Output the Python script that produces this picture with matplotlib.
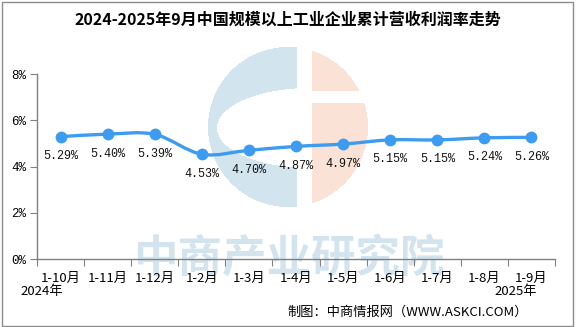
import numpy as np
import matplotlib
matplotlib.use("Agg")
import matplotlib.pyplot as plt
from matplotlib.path import Path
from matplotlib.patches import PathPatch, Rectangle

plt.rcParams['font.family'] = ['Noto Sans CJK SC', 'DejaVu Sans']

categories = ["1-10月", "1-11月", "1-12月", "1-2月", "1-3月", "1-4月",
              "1-5月", "1-6月", "1-7月", "1-8月", "1-9月"]
values = [5.29, 5.40, 5.39, 4.53, 4.70, 4.87, 4.97, 5.15, 5.15, 5.24, 5.26]
ytick_vals = [0, 2, 4, 6, 8]
ytick_labels = ["0%", "2%", "4%", "6%", "8%"]
title = "2024-2025年9月中国规模以上工业企业累计营收利润率走势"
year_left = "2024年"
year_right = "2025年"
source = "制图：中商情报网（WWW.ASKCI.COM）"
watermark = "中商产业研究院"

W, H = 577, 327
fig = plt.figure(figsize=(W / 100, H / 100), dpi=100)

# background (pixel coordinates)
bg = fig.add_axes([0, 0, 1, 1], zorder=-1)
bg.set_xlim(0, W)
bg.set_ylim(H, 0)
bg.axis('off')

yy, xx = np.mgrid[0:H, 0:W] + 0.5
img = np.ones((H, W, 4))
img[..., 3] = 0
circle = (xx - 288) ** 2 + (yy - 127) ** 2 <= 80 ** 2
inner = ((xx - 310) / 93.0) ** 2 + ((yy - 128) / 40.0) ** 2 <= 1
blue = circle & (xx <= 297) & ~inner
salmon = circle & (xx >= 312) & ~((yy >= 91) & (yy <= 103))
img[blue] = [210 / 255, 228 / 255, 238 / 255, 1]
img[salmon] = [250 / 255, 226 / 255, 214 / 255, 1]
bg.imshow(img, extent=(0, W, H, 0), interpolation='nearest', aspect='auto')
wm = bg.text(289, 236, watermark, fontsize=32, fontweight='bold', color='#D3E4EF',
             ha='center', va='top')
clip = Rectangle((0, 0), W, 267, transform=bg.transData)
wm.set_clip_path(clip)
bg.add_patch(Rectangle((1.5, 1.5), 571, 324, fill=False, edgecolor='#8C8C8C', lw=1))
bg.text(288, 20, title, fontsize=11.5, fontweight='bold', ha='center', va='center')
bg.text(20, 292, year_left, fontsize=9.5, ha='left', va='center')
bg.text(537, 292, year_right, fontsize=9.5, ha='right', va='center')
bg.text(287, 312, source, fontsize=9.5, ha='left', va='center')

# main axes
ax = fig.add_axes([37 / W, (H - 259) / H, (555 - 37) / W, (259 - 74) / H])
ax.set_facecolor('none')
n = len(values)
x = np.arange(n)
ax.set_xlim(-0.5, n - 0.5)
ax.set_ylim(0, 8)

# smoothed line (Excel-like Bezier through data points)
pts = np.column_stack([x, values]).astype(float)
verts = [tuple(pts[0])]
codes = [Path.MOVETO]
for i in range(n - 1):
    p0 = pts[i - 1] if i > 0 else pts[i]
    p1 = pts[i]
    p2 = pts[i + 1]
    p3 = pts[i + 2] if i + 2 < n else pts[i + 1]
    c1 = p1 + (p2 - p0) / 6.0
    c2 = p2 - (p3 - p1) / 6.0
    verts += [tuple(c1), tuple(c2), tuple(p2)]
    codes += [Path.CURVE4] * 3
ax.add_patch(PathPatch(Path(verts, codes), fill=False, edgecolor='#3D9BF0',
                       lw=2.4, capstyle='round', zorder=3))
ax.plot(x, values, 'o', color='#3D9BF0', ms=7.5, zorder=4)

for xi, v in zip(x, values):
    ax.annotate(f"{v:.2f}%", (xi, v), xytext=(0, -14), textcoords='offset points',
                ha='center', va='center', fontsize=8.5, family='Liberation Mono',
                color='#111111')

for s in ['top', 'right']:
    ax.spines[s].set_visible(False)
for s in ['left', 'bottom']:
    ax.spines[s].set_color('#808080')
    ax.spines[s].set_linewidth(1)

ax.set_yticks(ytick_vals)
ax.set_yticklabels(ytick_labels, family='Liberation Mono', fontsize=9)
ax.tick_params(axis='y', direction='out', length=5, color='#808080', pad=3)

ax.set_xticks(np.arange(-0.5, n, 1.0))
ax.set_xticklabels([])
ax.tick_params(axis='x', which='major', direction='out', length=5, color='#808080')
ax.set_xticks(x, minor=True)
ax.set_xticklabels(categories, minor=True, fontsize=9.5)
ax.tick_params(axis='x', which='minor', length=0, pad=9)

fig.savefig("out.png", dpi=100)
